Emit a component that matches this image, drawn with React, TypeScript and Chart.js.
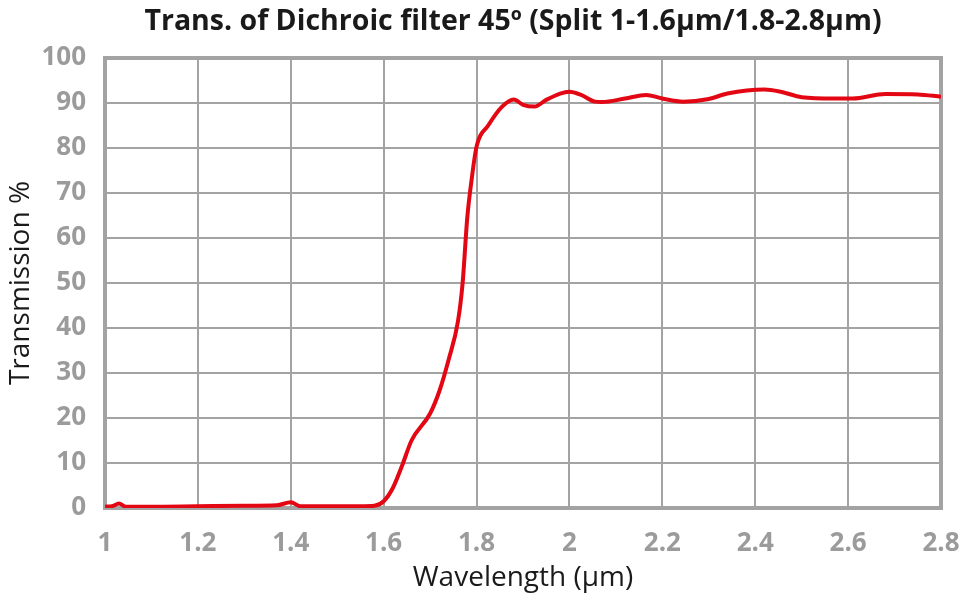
import React, { useEffect, useRef } from "react";
import { Chart, registerables } from "chart.js";

Chart.register(...registerables);

// Wavelength samples (µm) and measured transmission (%)
const wavelengths = [
  1.0, 1.015, 1.03, 1.045, 1.1, 1.2, 1.3, 1.37, 1.4, 1.42, 1.5, 1.55, 1.58, 1.6,
  1.62, 1.64, 1.66, 1.7, 1.72, 1.74, 1.76, 1.77, 1.78, 1.79, 1.8, 1.825, 1.855,
  1.88, 1.9, 1.925, 1.95, 1.98, 2.0, 2.025, 2.055, 2.07, 2.12, 2.165, 2.2, 2.245,
  2.3, 2.34, 2.42, 2.455, 2.5, 2.57, 2.61, 2.68, 2.75, 2.8,
];
const transmission = [
  0.3, 0.4, 1.0, 0.3, 0.3, 0.4, 0.5, 0.6, 1.3, 0.4, 0.4, 0.4, 0.5, 1.5, 4.5,
  9.5, 15, 21, 26, 33, 41.5, 50, 64.5, 73.5, 80.3, 85.0, 89.2, 90.8, 89.6, 89.2,
  90.7, 92.1, 92.5, 91.8, 90.3, 90.2, 91.0, 91.8, 91.0, 90.3, 90.9, 92.1, 93.0,
  92.5, 91.3, 91.0, 91.0, 92.0, 91.9, 91.4,
];

const titleText = "Trans. of Dichroic filter 45º (Split 1-1.6µm/1.8-2.8µm)";
const xTitle = "Wavelength (µm)";
const yTitle = "Transmission %";

const FONT = "'Open Sans', 'DejaVu Sans', sans-serif";
const GRID = "#a3a3a3";
const TICK = "#9b9b9b";

// Heavier frame around the plotting area, drawn beneath the curve
const framePlugin = {
  id: "frame",
  beforeDatasetsDraw(chart: any) {
    const { ctx, chartArea } = chart;
    ctx.save();
    ctx.strokeStyle = GRID;
    ctx.lineWidth = 4;
    ctx.strokeRect(
      chartArea.left,
      chartArea.top,
      chartArea.right - chartArea.left,
      chartArea.bottom - chartArea.top
    );
    ctx.restore();
  },
};

// Heading placed above the plot, slightly left of the plot's centre
const headingPlugin = {
  id: "heading",
  afterDraw(chart: any) {
    const { ctx, chartArea } = chart;
    ctx.save();
    ctx.fillStyle = "#1a1a1a";
    ctx.font = `bold 28.5px ${FONT}`;
    ctx.textAlign = "center";
    ctx.textBaseline = "middle";
    ctx.fillText(titleText, (chartArea.left + chartArea.right) / 2 - 10, 22);
    ctx.restore();
  },
};

export default function App() {
  const ref = useRef<HTMLCanvasElement>(null);

  useEffect(() => {
    if (!ref.current) return;
    const points = wavelengths.map((w, i) => ({ x: w, y: transmission[i] }));
    const chart = new Chart(ref.current, {
      type: "line",
      data: {
        datasets: [
          {
            data: points,
            borderColor: "#e30613",
            borderWidth: 4,
            pointRadius: 0,
            fill: false,
            cubicInterpolationMode: "monotone",
          },
        ],
      },
      plugins: [framePlugin, headingPlugin],
      options: {
        animation: false,
        responsive: false,
        maintainAspectRatio: false,
        layout: { padding: { left: 0, right: 24, top: 58, bottom: 0 } },
        plugins: {
          legend: { display: false },
          tooltip: { enabled: false },
          title: { display: false },
        },
        scales: {
          x: {
            type: "linear",
            min: 1,
            max: 2.8,
            ticks: {
              stepSize: 0.2,
              color: TICK,
              padding: 20,
              font: { family: FONT, size: 26, weight: "bold" },
              callback: (v: any) => String(Math.round(Number(v) * 10) / 10),
            },
            grid: { color: GRID, lineWidth: 2, drawTicks: false },
            border: { display: false },
            title: {
              display: true,
              text: xTitle,
              color: "#1a1a1a",
              font: { family: FONT, size: 28 },
              padding: { top: 0, bottom: 5 },
            },
            afterFit: (s: any) => {
              s.height = 92;
              s.paddingLeft = 0;
              s.paddingRight = 0;
            },
          },
          y: {
            min: 0,
            max: 100,
            ticks: {
              stepSize: 10,
              color: TICK,
              padding: 19,
              font: { family: FONT, size: 26, weight: "bold" },
            },
            grid: { color: GRID, lineWidth: 2, drawTicks: false },
            border: { display: false },
            title: {
              display: true,
              text: yTitle,
              color: "#1a1a1a",
              font: { family: FONT, size: 28 },
              padding: { top: 4, bottom: 0 },
            },
            afterFit: (s: any) => {
              s.width = 105;
              s.paddingTop = 0;
              s.paddingBottom = 0;
            },
          },
        },
      },
    });
    return () => chart.destroy();
  }, []);

  return (
    <div style={{ position: "fixed", left: 0, top: 0, width: 965, height: 600, background: "#fff" }}>
      <canvas ref={ref} width={965} height={600} />
    </div>
  );
}
